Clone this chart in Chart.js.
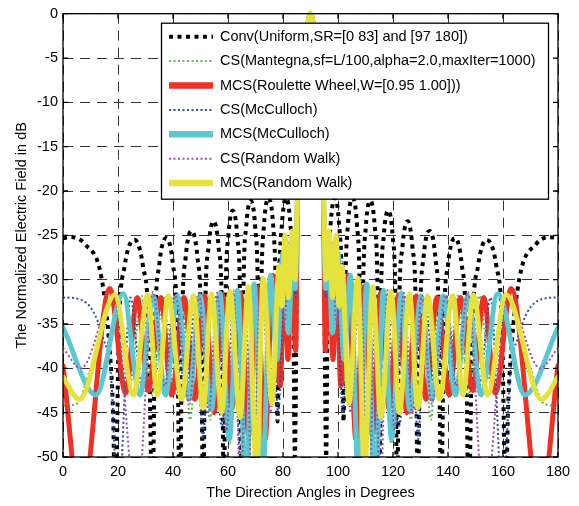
<!DOCTYPE html>
<html>
<head>
<meta charset="utf-8">
<script src="https://cdn.jsdelivr.net/npm/chart.js@4.4.1/dist/chart.umd.min.js"></script>
<style>
  html, body { margin: 0; padding: 0; background: #fff; }
</style>
</head>
<body>
<canvas id="pattern" width="579" height="506"></canvas>
<script>
// tick labels
const angleTicks = [0, 20, 40, 60, 80, 100, 120, 140, 160, 180];
const dbTicks = [0, -5, -10, -15, -20, -25, -30, -35, -40, -45, -50];

// main beam, shared by every curve (angle in degrees, field in dB)
const mainBeam = [[85.3,-20],[86,-14],[87,-8.5],[88,-4.2],[89,-1.2],[90,0],[91,-1.2],[92,-4.2],[93,-8.5],[94,-14],[94.7,-20]];

// side lobes: [angle, dB]
const convLeft = [[0,-25.3],[3,-25.2],[8,-26],[14,-29.8],[17,-38],[18.2,-45],[19,-56],
  [20.35,-35.3],[22.4,-28.5],[26,-25.5],[29.1,-28.5],[31.15,-35.3],[32.5,-56],
  [33.5,-35.1],[35,-28.3],[37.5,-25.3],[40,-28.3],[41.5,-35.1],[42.5,-56],
  [43.35,-34.3],[44.6,-27.5],[46.7,-24.5],[48.9,-27.5],[50.15,-34.3],[51,-56],
  [51.75,-33.2],[52.9,-26.4],[54.7,-23.4],[56.6,-26.4],[57.75,-33.2],[58.5,-56],
  [59.15,-32],[60.1,-25.2],[61.7,-22.2],[63.4,-25.2],[64.35,-32],[65,-56],
  [65.65,-30.9],[66.6,-24.1],[68.2,-21.1],[69.9,-24.1],[70.85,-30.9],[71.5,-50],
  [72.15,-30.6],[73.1,-23.8],[74.7,-20.8],[76.4,-23.8],[77.35,-30.6],[78,-46],
  [78.6,-30.6],[79.6,-23.8],[81.1,-20.8],[82.7,-23.8],[83.7,-30.6],[84.3,-50]];
const convRight = [[95.7,-50],[96.3,-30.6],[97.3,-23.8],[98.9,-20.8],[100.4,-23.8],[101.4,-30.6],[102,-46],
  [102.65,-30.6],[103.6,-23.8],[105.3,-20.8],[106.9,-23.8],[107.85,-30.6],[108.5,-50],
  [109.15,-30.9],[110.1,-24.1],[111.8,-21.1],[113.4,-24.1],[114.35,-30.9],[115,-56],
  [115.65,-32],[116.6,-25.2],[118.3,-22.2],[119.9,-25.2],[120.85,-32],[121.5,-56],
  [122.25,-33.2],[123.4,-26.4],[125.3,-23.4],[127.1,-26.4],[128.25,-33.2],[129,-56],
  [129.85,-34.3],[131.1,-27.5],[133.3,-24.5],[135.4,-27.5],[136.65,-34.3],[137.5,-56],
  [138.5,-35.1],[140,-28.3],[142.5,-25.3],[145,-28.3],[146.5,-35.1],[147.5,-56],
  [148.85,-35.3],[150.9,-28.5],[154,-25.5],[157.6,-28.5],[159.65,-35.3],[161,-56],
  [161.8,-45],[163,-38],[166,-29.8],[172,-26],[177,-25.2],[180,-25.3]];

const csMantegnaLeft = [[0,-44.2],[5,-44],[10,-40],[19.5,-32],[24.2,-42],[28.6,-31.8],[32.5,-43],[36.4,-31.8],[40.5,-43],[43.4,-31.8],[46.2,-45.8],[49.8,-31.8],[53.5,-45.8],[57,-31.5],[60.7,-48.5],[63.8,-31.2],[67,-46],[69.8,-30.5],[72.7,-49.5],[75.6,-29.5],[78.3,-42],[80.6,-27],[82.5,-33],[83.8,-25.5],[84.6,-29]];
const csMantegnaRight = [[95.4,-29],[96.2,-25.5],[97.5,-33],[99.4,-27],[101.7,-42],[104.4,-29.5],[107.3,-49.5],[110.2,-30.5],[113,-46],[116.2,-31.2],[119.3,-48.5],[123,-31.5],[126.5,-45.8],[130.2,-31.8],[133.8,-45.8],[136.6,-31.8],[139.5,-43],[143.6,-31.8],[147.5,-43],[151.4,-31.8],[155.8,-42],[160.5,-32],[170,-40],[175,-44],[180,-44.2]];

const mcsRouletteLeft = [[0,-39.7],[6.5,-56],[17,-31],[22.8,-42.8],[27,-32],[31,-42.5],[35.5,-32],[39.5,-43],[44,-32],[48,-43.5],[51.5,-31.8],[55,-45],[58,-31.7],[61.5,-44.5],[64.5,-31.5],[67.5,-47.5],[70.5,-30.8],[73.5,-48],[76.3,-29.5],[79,-42],[80.5,-27.5],[81.8,-39],[83.2,-26],[84.6,-38]];
const mcsRouletteRight = [[95.4,-38],[96.8,-26],[98.2,-39],[99.5,-27.5],[101,-42],[103.7,-29.5],[106.5,-48],[109.5,-30.8],[112.5,-47.5],[115.5,-31.5],[118.5,-44.5],[122,-31.7],[125,-45],[128.5,-31.8],[132,-43.5],[136,-32],[140.5,-43],[144.5,-32],[149,-42.5],[153,-32],[157.2,-42.8],[163,-31],[173.5,-56],[180,-39.7]];

const csMcCullochLeft = [[0,-32],[6,-32.2],[11,-33.6],[14.5,-36.5],[17.5,-41],[20,-56],[24.5,-32],[28.7,-42],[32.8,-31.8],[36.8,-42.5],[40.6,-31.8],[44.5,-43],[48.5,-32],[50.8,-48],[53.8,-31.8],[57.8,-46.5],[61,-31.4],[65.8,-56],[69,-30.8],[72.3,-50],[75.3,-29.5],[78.3,-45],[80.8,-27],[82.4,-34],[83.6,-26],[84.6,-32]];
const csMcCullochRight = [[95.4,-32],[96.4,-26],[97.6,-34],[99.2,-27],[101.7,-45],[104.7,-29.5],[107.7,-50],[111,-30.8],[114.2,-52],[119,-31.4],[122.2,-46.5],[126.2,-31.8],[129.2,-48],[131.5,-32],[135.5,-43],[139.4,-31.8],[143.2,-42.5],[147.2,-31.8],[151.3,-42],[155.5,-32],[160,-56],[162.5,-41],[165.5,-36.5],[169,-33.6],[174,-32.2],[180,-32]];

const mcsMcCullochLeft = [[0,-35.4],[12,-43],[21.9,-31.6],[28,-43],[32.8,-31.8],[37.3,-43],[41.7,-31.8],[45.8,-43.5],[49.8,-31.8],[54,-44.7],[57,-31.5],[60.5,-48],[63.5,-31.2],[66.5,-54],[69.5,-30.5],[72.5,-53],[75.5,-29.5],[77.8,-39],[80,-27],[82,-36],[83.5,-27],[84.5,-31]];
const mcsMcCullochRight = [[95.5,-31],[96.5,-27],[98,-36],[100,-27],[102.2,-39],[104.5,-29.5],[107.5,-53],[110.5,-30.5],[113.5,-54],[116.5,-31.2],[119.5,-48],[123,-31.5],[126,-44.7],[130.2,-31.8],[134.2,-43.5],[138.3,-31.8],[142.7,-43],[147.2,-31.8],[152,-43],[158.1,-31.6],[168,-43],[180,-35.4]];

const csRandomWalkLeft = [[0,-37.7],[6.5,-40],[18.5,-32],[26.8,-56],[32.8,-31.4],[37,-42],[40.8,-31.8],[46,-44],[49.5,-31.8],[53,-45],[56,-31.5],[59.5,-47],[62,-31.2],[64.7,-55],[66.6,-35],[68.8,-55],[72,-29.8],[75.5,-45],[78.2,-28],[80.5,-35],[82.5,-25.5],[84.3,-30]];
const csRandomWalkRight = [[95.7,-30],[97.5,-25.5],[99.5,-35],[101.8,-28],[104.5,-45],[108,-29.8],[111.2,-55],[113.4,-35],[115.3,-55],[118,-31.2],[120.5,-47],[124,-31.5],[127,-45],[130.5,-31.8],[134,-44],[139.2,-31.8],[143,-42],[147.2,-31.4],[153.2,-56],[161.5,-32],[173.5,-40],[180,-37.7]];

const mcsRandomWalkLeft = [[0,-41],[6,-43.5],[18.9,-31.7],[25.6,-43],[30.8,-31.7],[34.3,-43],[38.3,-31.8],[43.1,-43.5],[47.4,-31.8],[51,-44.5],[54,-31.6],[57.7,-45],[60.7,-31.3],[64.4,-45.5],[67.4,-30.8],[70.4,-52],[72.8,-29.8],[76,-44],[78.6,-28.5],[79.6,-33],[80.7,-25],[82,-32],[83.3,-24.5],[84.4,-30]];
const mcsRandomWalkRight = [[95.6,-30],[96.7,-24.5],[98,-32],[99.3,-25],[100.4,-33],[101.4,-28.5],[104,-44],[107.2,-29.8],[109.6,-52],[112.6,-30.8],[115.6,-45.5],[119.3,-31.3],[122.3,-45],[126,-31.6],[129,-44.5],[132.6,-31.8],[136.9,-43.5],[141.7,-31.8],[145.5,-43],[149.2,-31.7],[154.4,-43],[161.1,-31.7],[174,-43.5],[180,-41]];

const seriesNames = [
  'Conv(Uniform,SR=[0 83] and [97 180])',
  'CS(Mantegna,sf=L/100,alpha=2.0,maxIter=1000)',
  'MCS(Roulette Wheel,W=[0.95 1.00]))',
  'CS(McCulloch)',
  'MCS(McCulloch)',
  'CS(Random Walk)',
  'MCS(Random Walk)'
];

function curve(left, right) {
  return left.concat(mainBeam, right).map(([x, y]) => ({ x, y }));
}

const styles = [
  { color: '#000000', width: 4, dash: [4, 4.5] },
  { color: '#5cb944', width: 2, dash: [2, 2.5] },
  { color: '#ee3124', width: 5, dash: [] },
  { color: '#2d4fa6', width: 2, dash: [2, 2.5] },
  { color: '#5bc7d1', width: 5, dash: [] },
  { color: '#a34da8', width: 2, dash: [2, 2.5] },
  { color: '#e6e23c', width: 5, dash: [] }
];

const curves = [
  curve(convLeft, convRight),
  curve(csMantegnaLeft, csMantegnaRight),
  curve(mcsRouletteLeft, mcsRouletteRight),
  curve(csMcCullochLeft, csMcCullochRight),
  curve(mcsMcCullochLeft, mcsMcCullochRight),
  curve(csRandomWalkLeft, csRandomWalkRight),
  curve(mcsRandomWalkLeft, mcsRandomWalkRight)
];

const datasets = curves.map((pts, i) => ({
  label: seriesNames[i],
  data: pts,
  borderColor: styles[i].color,
  backgroundColor: styles[i].color,
  borderWidth: styles[i].width,
  borderDash: styles[i].dash,
  borderCapStyle: styles[i].dash.length ? 'butt' : 'round',
  borderJoinStyle: 'round',
  pointRadius: 0,
  cubicInterpolationMode: 'monotone',
  clip: { left: 0, right: 0, top: 4, bottom: 0 },
  order: 6 - i // later series drawn on top, like matlab
}));

const FONT = "'Liberation Sans', Arial, sans-serif";

// box, inner ticks and the legend inside the axes
const boxPlugin = {
  id: 'box',
  afterDatasetsDraw(chart) {
    const { ctx, chartArea: a } = chart;
    const w = 387, h = 176;
    const left = a.right - 10 - w, top = a.top + 9;
    ctx.save();
    ctx.fillStyle = '#fff';
    ctx.fillRect(left, top, w, h);
    ctx.strokeStyle = '#000';
    ctx.lineWidth = 1.3;
    ctx.strokeRect(left + 0.5, top + 0.5, w, h);
    ctx.font = '14.5px ' + FONT;
    ctx.textBaseline = 'middle';
    ctx.fillStyle = '#000';
    chart.data.datasets.forEach((ds, i) => {
      const y = top + 14 + i * 24.4;
      ctx.beginPath();
      ctx.strokeStyle = ds.borderColor;
      ctx.lineWidth = ds.borderWidth === 5 ? 6.5 : ds.borderWidth;
      ctx.setLineDash(ds.borderDash);
      ctx.lineCap = 'butt';
      ctx.moveTo(left + 8, y);
      ctx.lineTo(left + 52, y);
      ctx.stroke();
      ctx.setLineDash([]);
      ctx.fillText(ds.label, left + 59, y);
    });
    ctx.restore();
  },
  afterDraw(chart) {
    const { ctx, chartArea: a, scales } = chart;
    ctx.save();
    ctx.strokeStyle = '#000';
    ctx.lineWidth = 1.3;
    ctx.setLineDash([]);
    ctx.strokeRect(a.left, a.top, a.right - a.left, a.bottom - a.top);
    ctx.beginPath();
    angleTicks.forEach(v => {
      const px = scales.x.getPixelForValue(v);
      ctx.moveTo(px, a.bottom); ctx.lineTo(px, a.bottom - 5);
      ctx.moveTo(px, a.top); ctx.lineTo(px, a.top + 5);
    });
    dbTicks.forEach(v => {
      const py = scales.y.getPixelForValue(v);
      ctx.moveTo(a.left, py); ctx.lineTo(a.left + 5, py);
      ctx.moveTo(a.right, py); ctx.lineTo(a.right - 5, py);
    });
    ctx.stroke();
    ctx.restore();
  }
};

const gridDash = [10, 7];

new Chart(document.getElementById('pattern'), {
  type: 'line',
  data: { datasets },
  options: {
    responsive: false,
    animation: false,
    layout: { padding: { top: 12, right: 21, left: 0, bottom: 0 } },
    plugins: {
      legend: { display: false },
      tooltip: { enabled: false }
    },
    scales: {
      x: {
        type: 'linear',
        min: 0,
        max: 180,
        afterFit: s => { s.height = 49; },
        afterBuildTicks: s => { s.ticks = angleTicks.map(v => ({ value: v })); },
        ticks: { color: '#000', padding: 6, font: { family: FONT, size: 14.5 } },
        grid: { color: '#333', lineWidth: 1, drawTicks: false, borderDash: gridDash },
        border: { display: false, dash: gridDash },
        title: {
          display: true,
          text: 'The Direction Angles in Degrees',
          color: '#000',
          font: { family: FONT, size: 14.5 },
          padding: { top: 0, bottom: 4 }
        }
      },
      y: {
        min: -50,
        max: 0,
        afterFit: s => { s.width = 63; },
        afterBuildTicks: s => { s.ticks = dbTicks.map(v => ({ value: v })); },
        ticks: { color: '#000', padding: 5, font: { family: FONT, size: 14.5 } },
        grid: { color: '#333', lineWidth: 1, drawTicks: false, borderDash: gridDash },
        border: { display: false, dash: gridDash },
        title: {
          display: true,
          text: 'The Normalized Electric Field in dB',
          color: '#000',
          font: { family: FONT, size: 14.5 },
          padding: { top: 13, bottom: 0 }
        }
      }
    }
  },
  plugins: [boxPlugin]
});
</script>
</body>
</html>
